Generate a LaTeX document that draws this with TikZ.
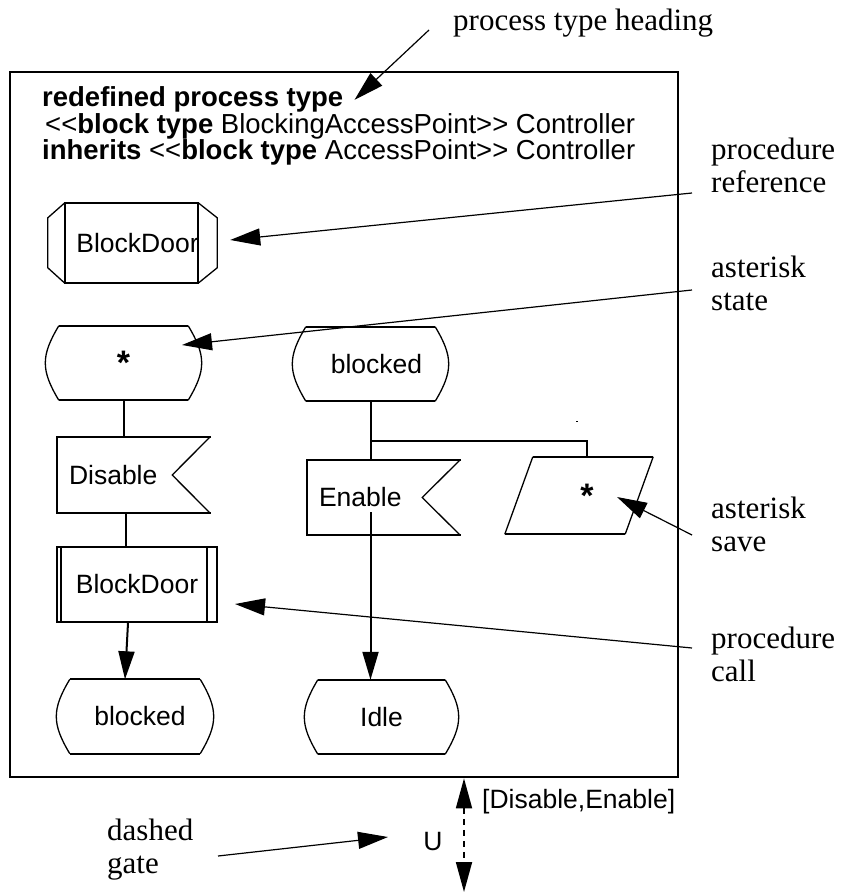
\documentclass[tikz,border=0pt]{standalone}
\usepackage{fontspec}
\setmainfont{Liberation Serif}
\setsansfont{Liberation Sans}
\usetikzlibrary{arrows.meta}

% state symbol: straight top and bottom, bulging sides
\newcommand\sdlstate[1]{%
  \draw[edge] (#1.north west) -- (#1.north east);
  \draw[edge] (#1.south west) -- (#1.south east);
  \draw[side] (#1.north east) .. controls ([xshift=18pt,yshift=-30pt]#1.north east) and ([xshift=18pt,yshift=30pt]#1.south east) .. (#1.south east);
  \draw[side] (#1.north west) .. controls ([xshift=-18pt,yshift=-30pt]#1.north west) and ([xshift=-18pt,yshift=30pt]#1.south west) .. (#1.south west);}
% input symbol: box with a notch on its right side
\newcommand\sdlinput[1]{%
  \draw[edge] ([xshift=1pt]#1.north east) -- (#1.north west) -- (#1.south west) -- ([xshift=1pt]#1.south east);
  \draw[side] (#1.north east) -- ([xshift=-38pt]#1.east) -- (#1.south east);}
% text moved to the right inside a fixed-size symbol
\newcommand\nudge[2]{\makebox[0pt]{\hspace*{#1}#2}}

\begin{document}
\begin{tikzpicture}[x=1pt,y=-1pt,
  edge/.style={line width=2pt},
  side/.style={line width=1.3pt},
  conn/.style={line width=2pt},
  connarrow/.style={conn,-{Triangle[length=28pt,width=16pt]}},
  pointer/.style={line width=1.2pt,-{Triangle[length=30pt,width=17pt]}},
  sans/.style={font=\sffamily\fontsize{26.5}{30}\selectfont},
  star/.style={font=\sffamily\bfseries\fontsize{34}{34}\selectfont},
  note/.style={font=\rmfamily\fontsize{31}{33}\selectfont,align=left,anchor=base west,inner sep=0pt},
  headline/.style={font=\sffamily\fontsize{27.5}{30}\selectfont,anchor=base west,inner sep=0pt},
  statebox/.style={sans,inner sep=0pt,minimum height=74pt,minimum width=#1},
  sigbox/.style={sans,inner sep=0pt,inner xsep=12pt,text width=129pt,align=left,minimum height=#1},
  procbox/.style={sans,inner sep=0pt,minimum width=#1},
]
\useasboundingbox (0,0) rectangle (844,893);

% process type frame
\node[draw,line width=2.7pt,inner sep=0pt,minimum width=668pt,minimum height=705pt] (frame) at (344,424.5) {};

% heading
\node[headline] (h1) at (42,107) {\bfseries redefined process type};
\node[headline] (h2) at (45,134) {<{}<\textbf{block type} BlockingAccessPoint>{}> Controller};
\node[headline] (h3) at (42,160) {\textbf{inherits} <{}<\textbf{block type} AccessPoint>{}> Controller};

% procedure reference
\node[procbox=133pt,minimum height=80pt] (pref) at (131.5,243) {\nudge{12pt}{BlockDoor}};
\draw[edge] (pref.north west) rectangle (pref.south east);
\draw[side] (pref.north west) -- ++(-17,15) -- ++(0,50) -- (pref.south west);
\draw[side] (pref.north east) -- ++(19,15) -- ++(0,50) -- (pref.south east);

% left branch
\node[statebox=129pt,star] (st) at (123.5,363) {*};
\sdlstate{st}
\node[sigbox=76pt] (dis) at (133.5,475) {Disable};
\sdlinput{dis}
\node[procbox=160pt,minimum height=75pt,draw,edge] (pcall) at (137,584.5) {BlockDoor};
\draw[edge] ([xshift=5pt]pcall.north west) -- ([xshift=5pt]pcall.south west);
\draw[edge] ([xshift=-11pt]pcall.north east) -- ([xshift=-11pt]pcall.south east);
\node[statebox=130pt] (blb) at (135,716.5) {\nudge{10pt}{blocked}};
\sdlstate{blb}

% right branch
\node[statebox=129pt] (bla) at (370.5,364) {\nudge{12pt}{blocked}};
\sdlstate{bla}
\node[sigbox=75pt] (en) at (383.5,497.5) {Enable};
\sdlinput{en}
\node[sans,inner sep=0pt,minimum width=120pt,minimum height=77pt] (sav) at (579,495.5) {\nudge{16pt}{\fontsize{34}{34}\selectfont\bfseries *}};
\draw[edge] ([xshift=14pt]sav.north west) -- ([xshift=14pt]sav.north east);
\draw[edge] ([xshift=-14pt]sav.south west) -- ([xshift=-14pt]sav.south east);
\draw[side] ([xshift=14pt]sav.north west) -- ([xshift=-14pt]sav.south west);
\draw[side] ([xshift=14pt]sav.north east) -- ([xshift=-14pt]sav.south east);
\node[statebox=127pt] (idle) at (381.5,717) {Idle};
\sdlstate{idle}
\fill (576,420.5) rectangle (578,421.5);

% flow lines
\draw[conn] (st.south) -- (st.south |- dis.north);
\draw[conn] ([xshift=2pt]st.south |- dis.south) -- ([xshift=2pt]st.south |- pcall.north);
\draw[connarrow] ([xshift=-9pt]pcall.south) -- ([xshift=-10pt]blb.north);
\coordinate (br) at (370.5,441);
\draw[conn] (bla.south) -- (bla.south |- en.north);
\draw[conn] (br) -| ([xshift=8pt]sav.north);
\coordinate (enout) at (370.5,512);
\draw[connarrow] (enout) -- (enout |- idle.north);

% gate with its signal list
\coordinate (gx) at (464,892);
\draw[line width=1.8pt,dash pattern=on 6pt off 5pt,{Triangle[length=30pt,width=16pt]}-{Triangle[length=30pt,width=16pt]}] (gx |- frame.south) -- (gx);
\node[sans,anchor=west,inner sep=0pt] (gsig) at (482,802) {[Disable,Enable]};
\node[sans,inner sep=0pt] (gU) at (433,842) {U};

% annotations (base anchor sits on the last line)
\node[note] (lhead) at (453,31) {process type heading};
\node[note] (lpref) at (711,193) {procedure\\reference};
\node[note] (lstate) at (711,310) {asterisk\\state};
\node[note] (lsave) at (711,551) {asterisk\\save};
\node[note] (lcall) at (711,681) {procedure\\call};
\node[note] (lgate) at (107,873) {dashed\\gate};

\draw[pointer] ([shift={(-24,-1)}]lhead.base west) -- ([xshift=11pt]h1.east);
\draw[pointer] ([shift={(-19,0)}]lpref.base west) -- ([shift={(32,-3)}]pref.east);
\draw[pointer] ([shift={(-19,-20)}]lstate.base west) -- ([shift={(58.5,-18)}]st.center);
\draw[pointer] ([shift={(-19,-16)}]lsave.base west) -- ([shift={(38,1.5)}]sav.center);
\draw[pointer] ([shift={(-19,-33)}]lcall.base west) -- ([shift={(17,19.5)}]pcall.east);
\draw[pointer] ([shift={(111,-17)}]lgate.base west) -- ([shift={(-45,-5)}]gU.center);
\end{tikzpicture}
\end{document}
